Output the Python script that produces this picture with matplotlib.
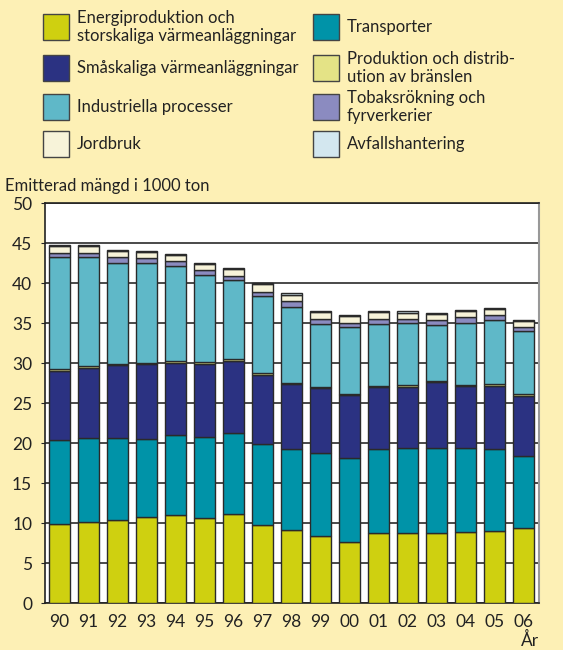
import numpy as np
import matplotlib
matplotlib.use("Agg")
import matplotlib.pyplot as plt
from matplotlib.patches import Rectangle

plt.rcParams['font.family'] = ['Lato', 'DejaVu Sans']

# data, 1000 ton
years = ["90", "91", "92", "93", "94", "95", "96", "97", "98",
         "99", "00", "01", "02", "03", "04", "05", "06"]
energi = [9.9, 10.2, 10.4, 10.75, 11.1, 10.65, 11.2, 9.8, 9.15,
          8.4, 7.7, 8.75, 8.75, 8.8, 8.9, 9.0, 9.4]
transport = [10.5, 10.5, 10.3, 9.85, 9.9, 10.15, 10.05, 10.1, 10.2,
             10.4, 10.5, 10.55, 10.65, 10.65, 10.55, 10.3, 9.05]
smaskaliga = [8.7, 8.75, 9.05, 9.3, 9.1, 9.15, 9.05, 8.7, 8.05,
              8.1, 7.8, 7.7, 7.7, 8.2, 7.7, 7.9, 7.5]
produktion = [0.2] * 17
industri = [13.95, 13.6, 12.65, 12.5, 11.9, 10.95, 9.9, 9.6, 9.5,
            7.85, 8.3, 7.7, 7.7, 6.95, 7.75, 8.05, 7.85]
tobak = [0.55, 0.55, 0.65, 0.6, 0.55, 0.55, 0.55, 0.55, 0.65,
         0.55, 0.6, 0.7, 0.6, 0.65, 0.65, 0.65, 0.6]
jordbruk = [0.9, 0.9, 0.75, 0.75, 0.75, 0.75, 0.85, 0.95, 0.85,
            0.9, 0.8, 0.8, 0.75, 0.75, 0.75, 0.7, 0.7]
avfall = [0.15] * 17

labels = ["Energiproduktion och\nstorskaliga värmeanläggningar",
          "Transporter",
          "Småskaliga värmeanläggningar",
          "Produktion och distrib-\nution av bränslen",
          "Industriella processer",
          "Tobaksrökning och\nfyrverkerier",
          "Jordbruk",
          "Avfallshantering"]
colors = ["#cfd010", "#0093a8", "#2b3282", "#e4e386",
          "#5fb8c8", "#8b8bc0", "#f7f3d9", "#d3e7ef"]
series = [energi, transport, smaskaliga, produktion,
          industri, tobak, jordbruk, avfall]

bg = "#fdf0b5"
fig = plt.figure(figsize=(5.63, 6.5), dpi=100, facecolor=bg)
ax = fig.add_axes([0.0794, 0.0718, 0.8776, 0.6154])
ax.set_facecolor("white")

x = np.arange(len(years))
bottom = np.zeros(len(years))
for vals, col in zip(series, colors):
    ax.bar(x, vals, width=0.72, bottom=bottom, color=col,
           edgecolor="#2a2a2a", linewidth=1.0, zorder=3)
    bottom += np.array(vals)

ax.set_ylim(0, 50)
ax.set_xlim(-0.51, 16.52)
ax.set_yticks(range(0, 51, 5))
ax.yaxis.grid(True, color="#4a4a4a", linewidth=1.4, zorder=0)
ax.set_axisbelow(True)
ax.set_xticks(x)
ax.set_xticklabels(years)
ax.tick_params(axis="x", length=0, labelsize=12.5, pad=8, colors="#222222")
ax.tick_params(axis="y", length=3, labelsize=12.5, pad=6, colors="#222222")
for side in ["left", "bottom", "top"]:
    ax.spines[side].set_color("#222222")
    ax.spines[side].set_linewidth(1.2)
ax.spines["right"].set_color("#999999")
ax.spines["right"].set_linewidth(1.5)

fig.text(5 / 563, 1 - 186 / 650, "Emitterad mängd i 1000 ton",
         fontsize=12, color="#222222", va="center", ha="left")
fig.text(530 / 563, 1 - 640 / 650, "År", fontsize=12.5, color="#222222",
         va="center", ha="center")

# legend drawn by hand, two columns
order = [[0, 2, 4, 6], [1, 3, 5, 7]]
row_y = [27, 68, 107, 144]
col_x = [43, 313]
for c, idxs in enumerate(order):
    for r, i in enumerate(idxs):
        px, py = col_x[c], row_y[r]
        fig.add_artist(Rectangle((px / 563, 1 - (py + 13) / 650),
                                 26 / 563, 26 / 650,
                                 transform=fig.transFigure,
                                 facecolor=colors[i], edgecolor="#444444",
                                 linewidth=1.0))
        fig.text((px + 34) / 563, 1 - py / 650, labels[i], fontsize=12,
                 color="#222222", va="center", ha="left", linespacing=1.2)

fig.savefig("out.png", dpi=100, facecolor=bg)
